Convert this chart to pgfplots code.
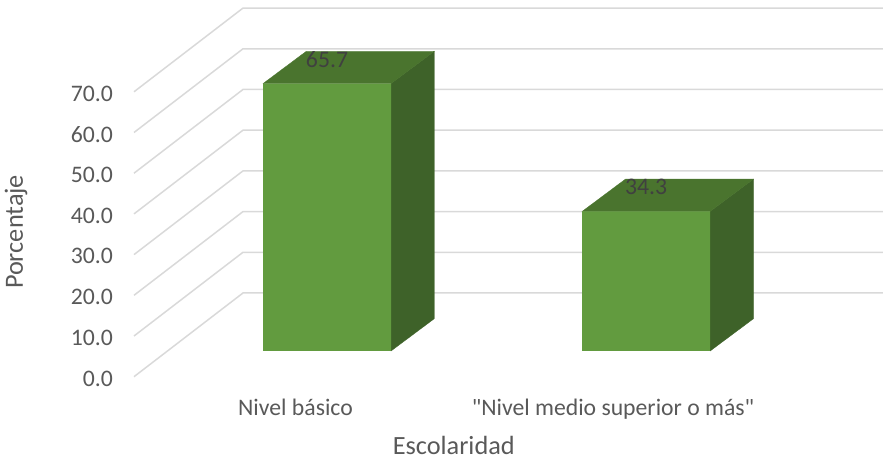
\documentclass[border=0pt]{standalone}
\usepackage{pgfplots}
\pgfplotsset{compat=1.18}
\usepackage{fontspec}
\setmainfont{Carlito}
\definecolor{gridc}{HTML}{D9D9D9}
\definecolor{tickc}{HTML}{595959}
\definecolor{lblc}{HTML}{404040}
\definecolor{frontc}{HTML}{629B3F}
\definecolor{topc}{HTML}{4A742E}
\definecolor{sidec}{HTML}{3E6229}
\newcommand{\tickfont}{\fontsize{23.7bp}{28bp}\selectfont}
\newcommand{\titlefont}{\fontsize{26.3bp}{31bp}\selectfont}
\begin{document}
\begin{tikzpicture}
\begin{axis}[
 at={(0,0)}, anchor=south west,
 scale only axis, width=883bp, height=460bp,
 xmin=0, xmax=883, ymin=-20.467, ymax=92.555,
 axis line style={draw=none}, major tick length=0pt,
 ytick={0,10,...,70},
 yticklabel style={/pgf/number format/.cd, fixed, fixed zerofill, precision=1, assume math mode=true, /tikz/.cd, anchor=east, inner sep=0pt, xshift=113bp, yshift=-1.8bp, font=\tickfont, text=tickc},
 xtick={295.5,613},
 xticklabels={{Nivel básico},{\textquotedbl Nivel medio superior o más\textquotedbl}},
 xticklabel style={anchor=base, inner sep=0pt, yshift=44bp, font=\tickfont, text=tickc},
 xlabel={Escolaridad}, ylabel={Porcentaje},
 every axis x label/.style={at={(rel axis cs:0.5139,0.01239)}, anchor=base, inner sep=0pt, font=\titlefont, text=tickc},
 every axis y label/.style={at={(rel axis cs:0.026,0.4957)}, rotate=90, anchor=base, inner sep=0pt, font=\titlefont, text=tickc},
 clip=false,
]
\coordinate (bl) at (rel axis cs:0,0);
\coordinate (tr) at (rel axis cs:1,1);
\addplot[gridc, line width=1.5bp] coordinates {(134,0) (243,20.57) (883,20.57)};
\addplot[gridc, line width=1.5bp] coordinates {(134,10) (243,30.57) (883,30.57)};
\addplot[gridc, line width=1.5bp] coordinates {(134,20) (243,40.57) (883,40.57)};
\addplot[gridc, line width=1.5bp] coordinates {(134,30) (243,50.57) (883,50.57)};
\addplot[gridc, line width=1.5bp] coordinates {(134,40) (243,60.57) (883,60.57)};
\addplot[gridc, line width=1.5bp] coordinates {(134,50) (243,70.57) (883,70.57)};
\addplot[gridc, line width=1.5bp] coordinates {(134,60) (243,80.57) (883,80.57)};
\addplot[gridc, line width=1.5bp] coordinates {(134,70) (243,90.57) (883,90.57)};
\end{axis}
\begin{axis}[
 at={(0,0)}, anchor=south west,
 scale only axis, width=883bp, height=460bp,
 xmin=0, xmax=883, ymin=-26.781, ymax=86.241,
 hide axis, clip=false,
]
% side faces
\addplot[fill=sidec, draw=sidec, line width=0.3bp] coordinates {(391,0) (434.3,7.94) (434.3,73.64) (391,65.7)} -- cycle;
\addplot[fill=sidec, draw=sidec, line width=0.3bp] coordinates {(710.15,0) (753.5,7.94) (753.5,42.24) (710.15,34.3)} -- cycle;
% top faces
\addplot[fill=topc, draw=topc, line width=0.3bp] coordinates {(263,65.7) (391,65.7) (434.3,73.64) (306.3,73.64)} -- cycle;
\addplot[fill=topc, draw=topc, line width=0.3bp] coordinates {(582.15,34.3) (710.15,34.3) (753.5,42.24) (625.5,42.24)} -- cycle;
% front faces with values
\addplot[ybar, bar width=128, fill=frontc, draw=none, point meta=y,
  nodes near coords,
  nodes near coords style={/pgf/number format/.cd, fixed, fixed zerofill, precision=1, assume math mode=true, /tikz/.cd, anchor=center, inner sep=0pt, yshift=24.3bp, font=\tickfont, text=lblc}]
  coordinates {(327,65.7) (646.15,34.3)};
\end{axis}
\pgfresetboundingbox
\path (bl) rectangle (tr);
\end{tikzpicture}
\end{document}
